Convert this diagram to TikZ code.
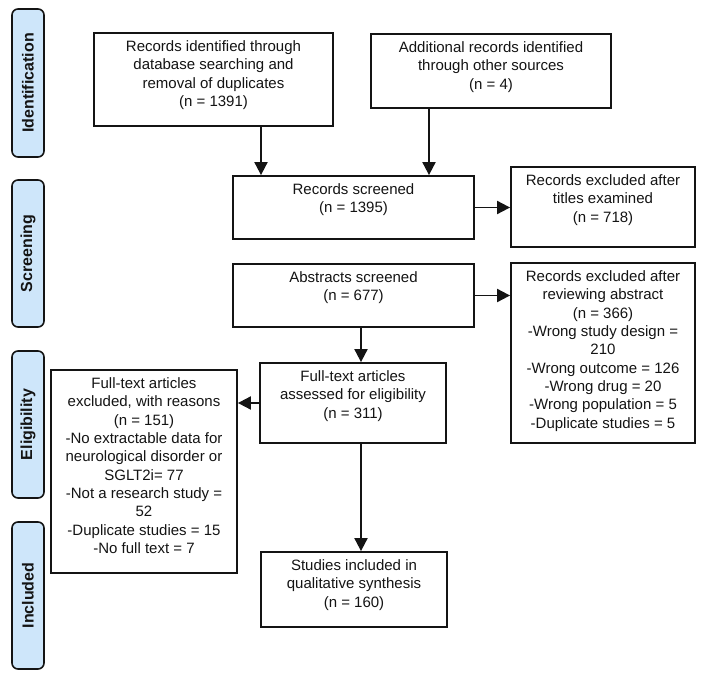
\documentclass[tikz,border=0pt]{standalone}
\usepackage{fontspec}
\setmainfont{Liberation Sans}
\usetikzlibrary{arrows.meta}
\definecolor{sidebl}{RGB}{206,230,250}
\definecolor{ink}{RGB}{20,20,20}
\begin{document}
\begin{tikzpicture}[x=1pt,y=-1pt,
  box/.style={draw=ink, line width=1.8pt, inner sep=0pt, fill=white},
  txt/.style={anchor=north, inner sep=0pt, align=center, text=ink,
    font=\fontsize{15}{18.3}\selectfont},
  side/.style={draw=ink, line width=1.6pt, fill=sidebl, rounded corners=6pt,
    rotate=90, minimum height=32pt, inner sep=0pt, text=ink,
    font=\fontsize{16}{18}\selectfont\bfseries},
  arr/.style={draw=ink, line width=1.9pt, -{Triangle[width=13pt,length=13pt]}}]
\useasboundingbox (0,0) rectangle (704,677);

% side labels
\node[side, minimum width=148pt] (sid) at (28,83) {Identification};
\node[side, minimum width=147pt] (ssc) at (28,253.5) {Screening};
\node[side, minimum width=147pt] (sel) at (28,424.5) {Eligibility};
\node[side, minimum width=147pt] (sin) at (28,595.5) {Included};

% boxes
\node[box, minimum width=239pt, minimum height=93pt] (A) at (213.5,79.5) {};
\node[txt] (At) at ([yshift=-8.5pt]A.north) {Records identified through\\database searching and\\removal of duplicates\\(n = 1391)};

\node[box, minimum width=240pt, minimum height=74pt] (B) at (491,71) {};
\node[txt] (Bt) at ([yshift=-8.5pt]B.north) {Additional records identified\\through other sources\\(n = 4)};

\node[box, minimum width=241pt, minimum height=63pt] (scr) at (353.5,207.5) {};
\node[txt] (scrt) at ([yshift=-8.5pt]scr.north) {Records screened\\(n = 1395)};

\node[box, minimum width=184pt, minimum height=80pt] (ext) at (603,207) {};
\node[txt] (extt) at ([yshift=-8.5pt]ext.north) {Records excluded after\\titles examined\\(n = 718)};

\node[box, minimum width=241pt, minimum height=63pt] (abs) at (353.5,295.5) {};
\node[txt] (abst) at ([yshift=-8.5pt]abs.north) {Abstracts screened\\(n = 677)};

\node[box, minimum width=184pt, minimum height=180pt] (exab) at (603,353) {};
\node[txt] (exabt) at ([yshift=-8.5pt]exab.north) {Records excluded after\\reviewing abstract\\(n = 366)\\-Wrong study design =\\210\\-Wrong outcome = 126\\-Wrong drug = 20\\-Wrong population = 5\\-Duplicate studies = 5};

\node[box, minimum width=186pt, minimum height=80pt] (ft) at (353,403) {};
\node[txt] (ftt) at ([yshift=-8.5pt]ft.north) {Full-text articles\\assessed for eligibility\\(n = 311)};

\node[box, minimum width=186pt, minimum height=203pt] (ftex) at (144,471.5) {};
\node[txt] (ftext) at ([yshift=-8.5pt]ftex.north) {Full-text articles\\excluded, with reasons\\(n = 151)\\-No extractable data for\\neurological disorder or\\SGLT2i= 77\\-Not a research study =\\52\\-Duplicate studies = 15\\-No full text = 7};

\node[box, minimum width=186pt, minimum height=75pt] (inc) at (354,589.5) {};
\node[txt] (inct) at ([yshift=-8.5pt]inc.north) {Studies included in\\qualitative synthesis\\(n = 160)};

% connectors
\coordinate (a1) at (261,0);
\coordinate (b1) at (429,0);
\coordinate (c1) at (361,0);
\draw[arr] (A.south -| a1) -- (scr.north -| a1);
\draw[arr] (B.south -| b1) -- (scr.north -| b1);
\draw[arr] (scr.east) -- (ext.west |- scr.east);
\draw[arr] (abs.east) -- (exab.west |- abs.east);
\draw[arr] (abs.south -| c1) -- (ft.north -| c1);
\draw[arr] (ft.west) -- (ftex.east |- ft.west);
\draw[arr] (ft.south -| c1) -- (inc.north -| c1);
\end{tikzpicture}
\end{document}
